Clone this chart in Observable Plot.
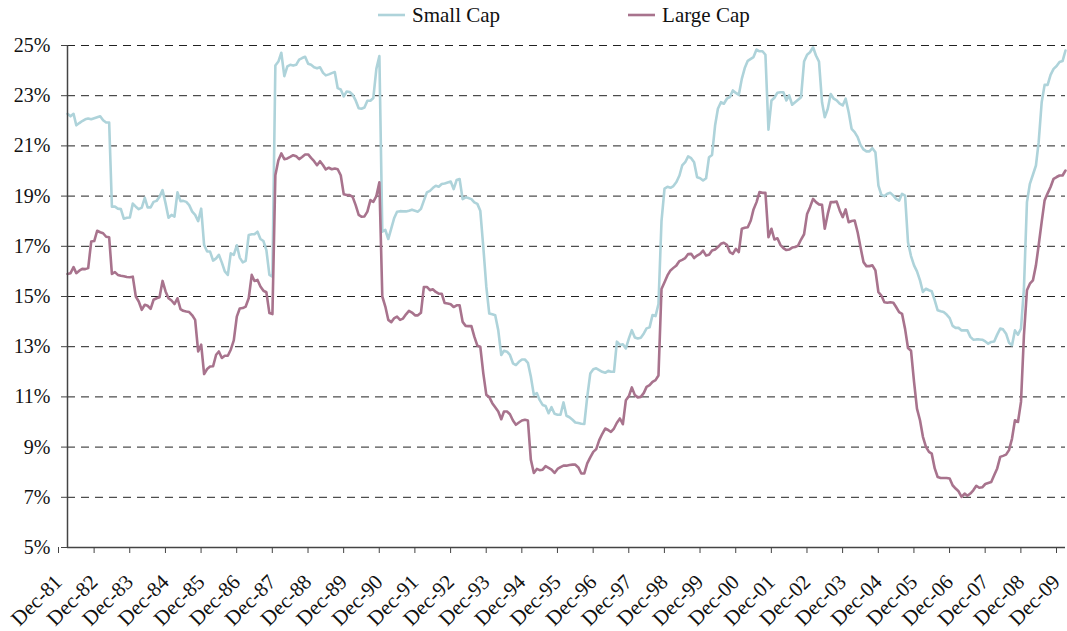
<!DOCTYPE html>
<html><head><meta charset="utf-8">
<script src="https://cdn.jsdelivr.net/npm/d3@7"></script>
<script src="https://cdn.jsdelivr.net/npm/@observablehq/plot@0.6"></script>
<style>
html,body{margin:0;padding:0;background:#fff;overflow:hidden;font-family:"Liberation Serif",serif;}
#legend{width:1067px;height:30px;box-sizing:border-box;padding-left:378px;display:flex;justify-content:flex-start;align-items:center;gap:128px;font-size:21px;color:#111;}
.item{display:flex;align-items:center;}
.item svg{margin-right:7px;display:block;}
#chart svg{display:block;max-width:none;}
</style></head><body>
<div id="legend"></div>
<div id="chart"></div>
<script>
const seriesNames = ["Small Cap", "Large Cap"];
const seriesColors = ["#aed3da", "#a8738d"];
const firstMonth = "1981-12";

const smallCap = [
22.28,22.18,22.28,21.82,21.91,21.99,22.06,22.09,22.06,22.10,22.14,22.18,
22.02,21.93,21.93,18.58,18.58,18.50,18.48,18.10,18.14,18.15,18.70,18.58,
18.48,18.54,18.93,18.55,18.55,18.77,18.81,18.97,19.24,18.71,18.14,18.25,
18.18,19.15,18.80,18.81,18.77,18.64,18.38,18.25,18.00,18.50,17.05,16.79,
16.79,16.43,16.52,16.66,16.35,16.00,15.86,16.72,16.66,17.04,16.55,16.36,
16.42,17.45,17.48,17.48,17.58,17.29,17.21,16.85,15.86,15.79,24.20,24.36,
24.71,23.78,24.17,24.23,24.20,24.23,24.44,24.50,24.55,24.27,24.23,24.13,
24.09,24.13,23.91,23.81,23.85,23.90,23.94,23.30,23.25,22.97,23.17,23.15,
23.04,22.81,22.50,22.48,22.53,22.80,22.80,22.91,24.07,24.58,17.58,17.65,
17.29,17.71,18.14,18.38,18.40,18.39,18.39,18.42,18.46,18.42,18.38,18.49,
18.82,19.15,19.21,19.32,19.41,19.37,19.48,19.50,19.54,19.58,19.28,19.64,
19.68,18.88,18.95,18.92,18.88,18.75,18.69,18.42,16.97,15.38,14.32,14.29,
14.25,13.66,12.67,12.84,12.80,12.67,12.34,12.27,12.40,12.49,12.49,12.36,
11.81,11.08,11.15,10.88,10.68,10.64,10.35,10.59,10.33,10.29,10.29,10.78,
10.25,10.19,10.09,9.98,9.96,9.93,9.92,11.00,11.93,12.10,12.14,12.07,
12.00,11.96,12.04,12.00,12.00,13.20,13.07,13.10,12.93,13.33,13.66,13.37,
13.33,13.36,13.53,13.73,13.77,14.26,14.22,14.70,18.00,19.30,19.37,19.33,
19.40,19.56,19.82,20.22,20.35,20.58,20.51,20.35,19.75,19.71,19.62,19.71,
20.55,20.64,21.81,22.48,22.74,22.68,22.88,22.94,23.21,23.11,23.03,23.67,
24.10,24.39,24.47,24.54,24.84,24.77,24.77,24.63,21.65,22.81,22.92,23.12,
23.14,23.14,22.81,23.01,22.64,22.74,22.84,22.94,24.36,24.63,24.73,24.93,
24.60,24.36,22.74,22.14,22.48,23.07,22.88,22.81,22.68,22.61,22.88,22.34,
21.68,21.55,21.35,21.04,20.86,20.78,20.78,20.91,20.75,19.42,19.05,19.00,
19.09,19.13,19.02,18.89,18.82,19.09,19.02,17.16,16.61,16.24,16.00,15.64,
15.18,15.31,15.25,15.21,14.85,14.45,14.41,14.38,14.28,14.14,13.83,13.75,
13.75,13.65,13.65,13.65,13.39,13.28,13.29,13.29,13.28,13.21,13.12,13.19,
13.21,13.48,13.72,13.69,13.52,13.16,13.06,13.65,13.48,13.72,15.31,18.76,
19.49,19.85,20.22,21.15,22.74,23.43,23.43,23.83,24.07,24.18,24.34,24.38,
24.80
];

const largeCap = [
15.90,15.93,16.17,15.93,16.03,16.10,16.09,16.13,17.19,17.21,17.62,17.56,
17.52,17.38,17.36,15.90,15.97,15.86,15.83,15.81,15.78,15.77,15.79,15.00,
14.80,14.47,14.67,14.63,14.51,14.87,14.93,14.97,15.62,15.20,14.93,14.84,
14.70,14.93,14.50,14.43,14.40,14.38,14.25,14.07,12.81,13.08,11.91,12.11,
12.21,12.22,12.68,12.81,12.55,12.64,12.64,12.88,13.25,14.20,14.52,14.54,
14.60,14.93,15.86,15.62,15.66,15.40,15.23,15.17,14.34,14.30,19.83,20.43,
20.70,20.47,20.50,20.56,20.63,20.59,20.47,20.56,20.66,20.66,20.52,20.39,
20.23,20.39,20.23,20.06,20.13,20.07,20.10,20.07,19.83,19.07,19.04,19.04,
18.97,18.64,18.25,18.18,18.19,18.38,18.84,18.77,19.00,19.55,15.00,14.60,
14.07,13.98,14.14,14.20,14.07,14.12,14.29,14.43,14.36,14.25,14.25,14.35,
15.38,15.38,15.25,15.29,15.18,15.11,15.11,14.74,14.72,14.69,14.58,14.65,
14.65,13.99,13.83,13.82,13.82,13.40,13.04,13.00,11.94,11.08,10.99,10.75,
10.59,10.42,10.11,10.42,10.42,10.31,10.06,9.89,9.98,10.06,10.09,10.06,
8.50,7.97,8.13,8.08,8.10,8.24,8.17,8.10,7.97,8.13,8.20,8.26,
8.26,8.29,8.30,8.30,8.19,7.95,7.95,8.35,8.59,8.81,8.92,9.28,
9.52,9.74,9.68,9.61,9.74,9.97,10.14,9.91,10.87,11.03,11.38,11.07,
10.98,11.00,11.16,11.40,11.47,11.60,11.67,11.85,15.30,15.57,15.84,16.04,
16.14,16.24,16.41,16.46,16.53,16.69,16.70,16.53,16.63,16.70,16.83,16.63,
16.66,16.83,16.87,16.97,17.10,17.14,17.06,16.77,16.70,16.90,16.77,17.70,
17.74,17.76,18.03,18.47,18.76,19.16,19.13,19.13,17.36,17.70,17.27,17.32,
17.06,16.93,16.85,16.87,16.95,16.97,17.03,17.27,17.48,18.29,18.56,18.89,
18.76,18.67,18.65,17.70,18.29,18.76,18.76,18.78,18.43,18.16,18.47,17.96,
18.01,18.03,17.56,16.97,16.37,16.21,16.21,16.24,16.04,15.17,15.04,14.77,
14.75,14.77,14.75,14.58,14.38,14.31,13.71,12.95,12.84,11.60,10.53,10.07,
9.41,9.01,8.81,8.74,8.15,7.81,7.77,7.77,7.77,7.75,7.48,7.35,
7.24,7.02,7.15,7.06,7.15,7.28,7.46,7.38,7.40,7.53,7.57,7.61,
7.88,8.15,8.61,8.65,8.70,8.88,9.34,10.07,10.00,10.80,13.45,15.25,
15.51,15.64,16.24,17.04,17.97,18.83,19.11,19.36,19.69,19.76,19.82,19.82,
20.02
];

const yTicks = [5, 7, 9, 11, 13, 15, 17, 19, 21, 23, 25];
const xTickLabels = ["Dec-81","Dec-82","Dec-83","Dec-84","Dec-85","Dec-86","Dec-87","Dec-88","Dec-89","Dec-90",
  "Dec-91","Dec-92","Dec-93","Dec-94","Dec-95","Dec-96","Dec-97","Dec-98","Dec-99","Dec-00",
  "Dec-01","Dec-02","Dec-03","Dec-04","Dec-05","Dec-06","Dec-07","Dec-08","Dec-09"];

const parseTick = d3.utcParse("%b-%y");
const xTicks = xTickLabels.map(parseTick);
const start = d3.utcParse("%Y-%m")(firstMonth);

const rows = [];
[smallCap, largeCap].forEach((arr, s) => {
  arr.forEach((v, i) => rows.push({date: d3.utcMonth.offset(start, i), value: v, series: seriesNames[s]}));
});

// legend
const legend = document.getElementById("legend");
seriesNames.forEach((name, i) => {
  const item = document.createElement("div");
  item.className = "item";
  item.innerHTML = `<svg width="27" height="6"><line x1="0" x2="27" y1="3" y2="3" stroke="${seriesColors[i]}" stroke-width="2.6"/></svg><span>${name}</span>`;
  legend.appendChild(item);
});

const labelFor = d => { const k = xTicks.findIndex(t => +t === +d); return k >= 0 ? xTickLabels[k] : ""; };

const chart = Plot.plot({
  width: 1067,
  height: 601,
  marginLeft: 67,
  marginRight: 2,
  marginTop: 15,
  marginBottom: 84,
  style: {fontFamily: '"Liberation Serif", serif', fontSize: "20px", color: "#111", background: "#fff", maxWidth: "none"},
  x: {type: "utc", domain: [xTicks[0], xTicks[xTicks.length - 1]]},
  y: {domain: [5, 25]},
  color: {domain: seriesNames, range: seriesColors},
  marks: [
    Plot.gridY(yTicks.slice(1), {stroke: "#222", strokeOpacity: 1, strokeDasharray: "8,6", strokeWidth: 1}),
    Plot.lineY(rows, {x: "date", y: "value", z: "series", stroke: "series", strokeWidth: 2.6, strokeLinejoin: "round"}),
    Plot.ruleY([5], {stroke: "#444", strokeWidth: 1.5}),
    Plot.ruleX([xTicks[0]], {stroke: "#444", strokeWidth: 1.5}),
    Plot.axisY({ticks: yTicks, tickFormat: d => d + "%", tickSize: 6, tickPadding: 11, label: null, stroke: "#444", fill: "#111"}),
    Plot.axisX({ticks: xTicks, tickFormat: labelFor, tickRotate: -45, tickSize: 6, tickPadding: 25, dx: -9, fontSize: 21, label: null, stroke: "#444", fill: "#111"})
  ]
});
document.getElementById("chart").appendChild(chart);
</script>
</body></html>
